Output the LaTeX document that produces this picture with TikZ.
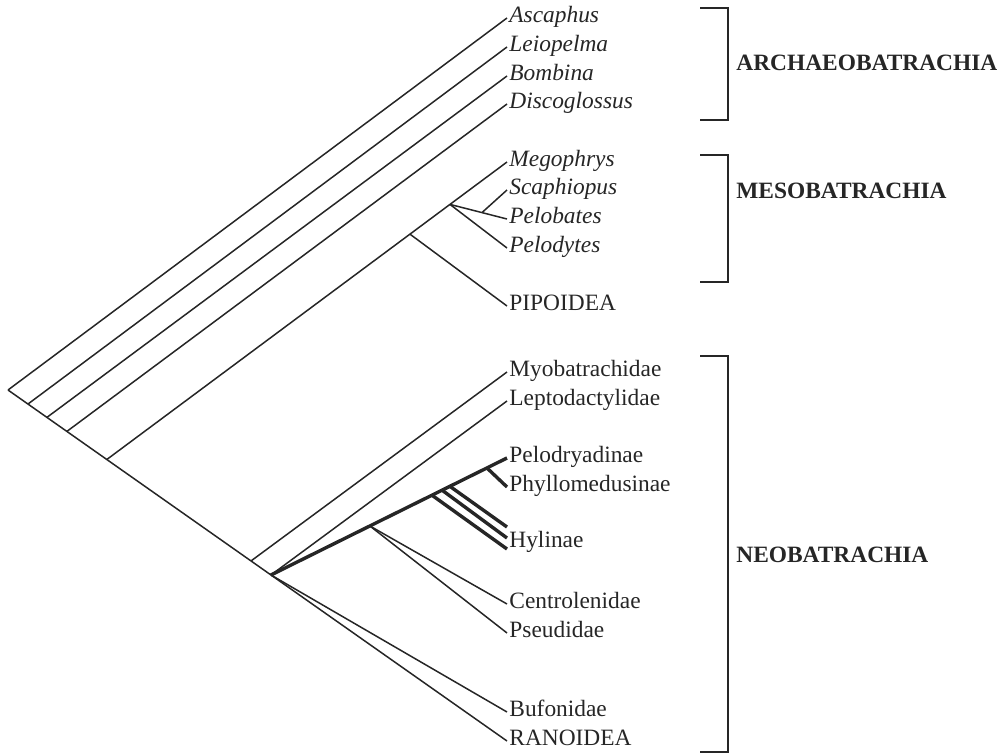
\documentclass[tikz,border=0pt]{standalone}
\usepackage{fontspec}
\setmainfont{Liberation Serif}
\usetikzlibrary{calc}
\tikzset{
	taxon/.style={anchor=west, inner sep=1pt, text height=0.7em, text depth=0.22em, text=black!85, font=\fontsize{11.7}{14}\selectfont},
	genus/.style={taxon, font=\fontsize{11.7}{14}\selectfont\itshape},
	group/.style={anchor=west, inner sep=0pt, text=black!85, font=\fontsize{11.7}{14}\selectfont\bfseries},
	branch/.style={line width=0.75pt, black!85},
	hylid/.style={line width=1.7pt, black!85},
	bracket/.style={line width=0.9pt, black!85}
}

\begin{document}
\begin{tikzpicture}[x=0.5pt, y=-0.5pt]
			\useasboundingbox (0,0) rectangle (1008,756);
			\node[genus] (asc) at (507,18) {Ascaphus};
			\node[genus] (lei) at (507,47) {Leiopelma};
			\node[genus] (bom) at (507,76) {Bombina};
			\node[genus] (dis) at (507,104) {Discoglossus};
			\node[genus] (meg) at (507,162) {Megophrys};
			\node[genus] (sca) at (507,190) {Scaphiopus};
			\node[genus] (pel) at (507,219) {Pelobates};
			\node[genus] (pdy) at (507,248) {Pelodytes};
			\node[taxon] (pip) at (507,306) {PIPOIDEA};
			\node[taxon] (myo) at (507,372) {Myobatrachidae};
			\node[taxon] (lep) at (507,401) {Leptodactylidae};
			\node[taxon] (pld) at (507,458) {Pelodryadinae};
			\node[taxon] (phy) at (507,487) {Phyllomedusinae};
			\node[taxon] (hyl) at (507,543) {Hylinae};
			\node[taxon] (cen) at (507,604) {Centrolenidae};
			\node[taxon] (pse) at (507,633) {Pseudidae};
			\node[taxon] (buf) at (507,712) {Bufonidae};
			\node[taxon] (ran) at (507,741) {RANOIDEA};
			\node[group] (archaeo) at (736,63) {ARCHAEOBATRACHIA};
			\node[group] (meso) at (736,191) {MESOBATRACHIA};
			\node[group] (neo) at (736,555) {NEOBATRACHIA};
			\coordinate (root) at (8,390);
			\coordinate (n1) at ($(root)!0.040!(ran.west)$);
			\coordinate (n2) at ($(root)!0.078!(ran.west)$);
			\coordinate (n3) at ($(root)!0.118!(ran.west)$);
			\coordinate (n4) at ($(root)!0.198!(ran.west)$);
			\coordinate (n5) at ($(root)!0.487!(ran.west)$);
			\coordinate (n6) at ($(root)!0.527!(ran.west)$);
			\coordinate (pipbase) at ($(n4)!0.7575!(meg.west)$);
			\coordinate (mesobase) at ($(n4)!0.8575!(meg.west)$);
			\coordinate (scabase) at ($(mesobase)!0.561!(pel.west)$);
			\coordinate (cenbase) at ($(n6)!0.419!(pld.west)$);
			\coordinate (hy1) at ($(n6)!0.682!(pld.west)$);
			\coordinate (hy2) at ($(n6)!0.725!(pld.west)$);
			\coordinate (hy3) at ($(n6)!0.758!(pld.west)$);
			\coordinate (phybase) at ($(n6)!0.915!(pld.west)$);
			\coordinate (hylA) at ($(hyl.west)+(0,-16)$);
			\coordinate (hylB) at ($(hyl.west)+(0,-5)$);
			\coordinate (hylC) at ($(hyl.west)+(0,6)$);
			\draw[branch] (root) -- (asc.west);
			\draw[branch] (root) -- (ran.west);
			\draw[branch] (n1) -- (lei.west);
			\draw[branch] (n2) -- (bom.west);
			\draw[branch] (n3) -- (dis.west);
			\draw[branch] (n4) -- (meg.west);
			\draw[branch] (pipbase) -- (pip.west);
			\draw[branch] (mesobase) -- (pel.west);
			\draw[branch] (mesobase) -- (pdy.west);
			\draw[branch] (scabase) -- (sca.west);
			\draw[branch] (n5) -- (myo.west);
			\draw[branch] (n6) -- (lep.west);
			\draw[branch] (n6) -- (buf.west);
			\draw[hylid] (n6) -- (pld.west);
			\draw[hylid] (phybase) -- (phy.west);
			\draw[hylid] (hy1) -- (hylC);
			\draw[hylid] (hy2) -- (hylB);
			\draw[hylid] (hy3) -- (hylA);
			\draw[branch] (cenbase) -- (cen.west);
			\draw[branch] (cenbase) -- (pse.west);
			\draw[bracket] (700,8) -- (728,8) -- (728,120) -- (700,120);
			\draw[bracket] (700,155) -- (728,155) -- (728,282) -- (700,282);
			\draw[bracket] (700,356) -- (728,356) -- (728,752) -- (700,752);
		\end{tikzpicture}
\end{document}
